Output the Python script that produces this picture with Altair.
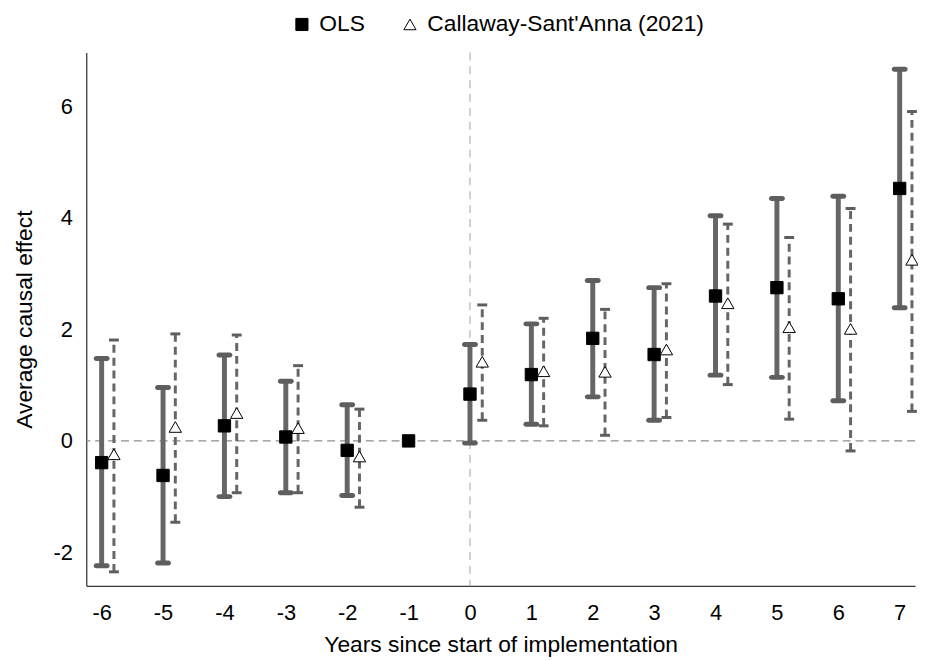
import altair as alt
import pandas as pd

periods = [-6, -5, -4, -3, -2, -1, 0, 1, 2, 3, 4, 5, 6, 7]
ols_est = [-0.39, -0.62, 0.27, 0.07, -0.17, 0.0, 0.84, 1.19, 1.84, 1.55, 2.60, 2.75, 2.55, 4.53]
ols_lo = [-2.24, -2.19, -1.00, -0.93, -0.98, None, -0.04, 0.30, 0.79, 0.37, 1.18, 1.14, 0.72, 2.39]
ols_hi = [1.48, 0.96, 1.54, 1.07, 0.65, None, 1.73, 2.10, 2.88, 2.75, 4.04, 4.35, 4.39, 6.67]

cs_periods = [-6, -5, -4, -3, -2, 0, 1, 2, 3, 4, 5, 6, 7]
cs_est = [-0.24, 0.25, 0.50, 0.23, -0.28, 1.42, 1.25, 1.24, 1.64, 2.47, 2.04, 2.01, 3.25]
cs_lo = [-2.35, -1.46, -0.93, -0.93, -1.19, 0.37, 0.27, 0.10, 0.42, 1.01, 0.39, -0.18, 0.53]
cs_hi = [1.81, 1.92, 1.90, 1.35, 0.57, 2.44, 2.20, 2.36, 2.82, 3.89, 3.65, 4.17, 5.91]

series_names = ["OLS", "Callaway-Sant'Anna (2021)"]
y_ticks = [-2, 0, 2, 4, 6]

ols = pd.DataFrame({"period": periods, "est": ols_est, "lo": ols_lo, "hi": ols_hi, "series": series_names[0]})
cs = pd.DataFrame({"period": cs_periods, "est": cs_est, "lo": cs_lo, "hi": cs_hi, "series": series_names[1]})
df = pd.concat([ols, cs], ignore_index=True)

FONT = "Liberation Sans"
GRAY = "#666666"

x_scale = alt.Scale(domain=[-6.25, 7.25], nice=False, zero=False)
y_scale = alt.Scale(domain=[-2.6, 6.97], nice=False, zero=False)
x_axis = alt.Axis(values=periods, title="Years since start of implementation", labelAngle=0,
                  labelExpr="'' + datum.value", labelPadding=17, titlePadding=10)
y_axis = alt.Axis(values=y_ticks, title="Average causal effect",
                  labelExpr="'' + datum.value", labelPadding=14, titlePadding=17)


def X(field="xpos"):
    return alt.X(f"{field}:Q", scale=x_scale, axis=x_axis)


def Y(field):
    return alt.Y(f"{field}:Q", scale=y_scale, axis=y_axis)


base = alt.Chart(df).transform_calculate(
    xpos="datum.series == 'OLS' ? datum.period : datum.period + 0.2"
)

zero_line = alt.Chart(pd.DataFrame({"est": [0]})).mark_rule(
    color="#8f8f8f", strokeWidth=1.2, strokeDash=[8, 5]
).encode(y=Y("est"))

vert_line = alt.Chart(pd.DataFrame({"xpos": [0]})).mark_rule(
    color="#b3b3b3", strokeWidth=1.2, strokeDash=[8, 6]
).encode(x=X())

ols_base = base.transform_filter("datum.series == 'OLS' && isValid(datum.lo)")
cs_base = base.transform_filter("datum.series != 'OLS' && isValid(datum.lo)")

ols_bars = ols_base.mark_rule(color=GRAY, strokeWidth=5).encode(x=X(), y=Y("lo"), y2="hi:Q")
ols_caps = ols_base.transform_fold(["lo", "hi"], as_=["bound", "val"]).mark_tick(
    orient="horizontal", size=16, thickness=5, cornerRadius=2.5, color="#5e5e5e", opacity=1
).encode(x=X(), y=Y("val"))

cs_bars = cs_base.mark_rule(color=GRAY, strokeWidth=3, strokeDash=[8, 5]).encode(
    x=X(), y=Y("lo"), y2="hi:Q")
cs_caps = cs_base.transform_fold(["lo", "hi"], as_=["bound", "val"]).mark_tick(
    orient="horizontal", size=10, thickness=3, color="#5e5e5e", opacity=1
).encode(x=X(), y=Y("val"))

legend = alt.Legend(
    title=None, orient="none", legendX=206, legendY=-40, direction="horizontal",
    labelFont=FONT, labelFontSize=23, labelColor="black", labelLimit=500, symbolSize=150,
    labelOffset=6, columnPadding=33, padding=0,
    symbolStrokeColor="black", symbolStrokeWidth=1,
)

points = base.mark_point(size=155, strokeWidth=1, opacity=1).encode(
    x=X(), y=Y("est"),
    shape=alt.Shape("series:N", scale=alt.Scale(domain=series_names, range=["square", "triangle-up"]),
                    legend=legend),
    fill=alt.Fill("series:N", scale=alt.Scale(domain=series_names, range=["black", "white"]),
                  legend=legend),
    stroke=alt.Stroke("series:N", scale=alt.Scale(domain=series_names, range=["black", "black"]),
                      legend=legend),
)

chart = alt.layer(
    zero_line, vert_line, ols_bars, ols_caps, cs_bars, cs_caps, points
).properties(
    width=836, height=538,
    autosize=alt.AutoSizeParams(type="none"),
    padding={"left": 79, "top": 42, "right": 3, "bottom": 72},
).configure_view(stroke=None).configure_axis(
    grid=False, ticks=False, tickSize=0, domainColor="black", domainWidth=1,
    labelFont=FONT, labelFontSize=22, labelColor="black",
    titleFont=FONT, titleFontSize=23, titleFontWeight="normal", titleColor="black",
)

chart.save("out.html", embed_options={"renderer": "svg", "actions": False})
